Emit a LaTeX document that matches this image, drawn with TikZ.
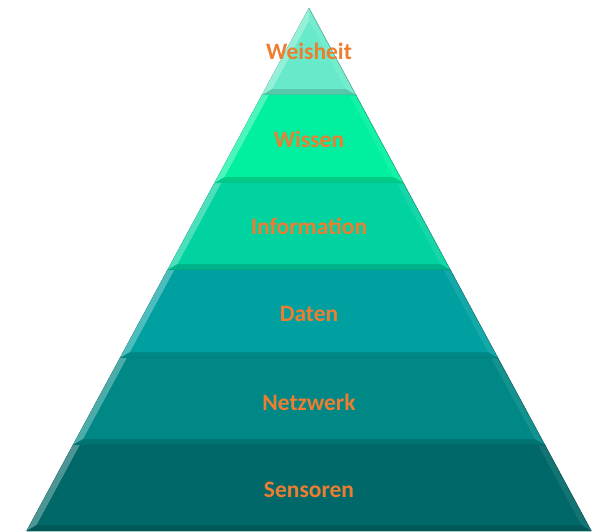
\documentclass[tikz,border=0pt]{standalone}
\usepackage{fontspec}
\setmainfont{Carlito}
\usepackage{tikz}

\definecolor{weisheit}{RGB}{104,234,202}
\definecolor{wissen}{RGB}{0,240,160}
\definecolor{information}{RGB}{0,210,160}
\definecolor{daten}{RGB}{0,160,160}
\definecolor{netzwerk}{RGB}{0,136,134}
\definecolor{sensoren}{RGB}{0,104,104}
\definecolor{labelorange}{RGB}{237,125,49}

\tikzset{layertext/.style={text=labelorange, font=\fontsize{23.5}{28}\selectfont\bfseries}}

\begin{document}
\begin{tikzpicture}[x=1pt,y=-1pt]
        \useasboundingbox (0,0) rectangle (603,532);

        % Weisheit
        \draw[draw=weisheit!60!black, fill=weisheit!92!white] (309,8) -- (356,95) -- (262,95) -- cycle;
        \fill[weisheit!70!white] (309,8) -- (309,21) -- (272.3,89) -- (262,95) -- cycle;
        \fill[weisheit!85!black] (262,95) -- (272.3,89) -- (345.7,89) -- (356,95) -- cycle;
        \fill[weisheit] (309,21) -- (345.7,89) -- (272.3,89) -- cycle;

        % Wissen
        \draw[draw=wissen!60!black, fill=wissen!92!white] (262,95) -- (356,95) -- (403.5,183) -- (214.5,183) -- cycle;
        \fill[wissen!70!white] (262,95) -- (269,95) -- (224.7,177) -- (214.5,183) -- cycle;
        \fill[wissen!85!black] (214.5,183) -- (224.7,177) -- (393.3,177) -- (403.5,183) -- cycle;
        \fill[wissen] (269,95) -- (349,95) -- (393.3,177) -- (224.7,177) -- cycle;

        % Information
        \draw[draw=information!60!black, fill=information!92!white] (214.5,183) -- (403.5,183) -- (450.5,270) -- (167.5,270) -- cycle;
        \fill[information!70!white] (214.5,183) -- (221.5,183) -- (177.8,264) -- (167.5,270) -- cycle;
        \fill[information!85!black] (167.5,270) -- (177.8,264) -- (440.2,264) -- (450.5,270) -- cycle;
        \fill[information] (221.5,183) -- (396.5,183) -- (440.2,264) -- (177.8,264) -- cycle;

        % Daten
        \draw[draw=daten!60!black, fill=daten!92!white] (167.5,270) -- (450.5,270) -- (498,358) -- (120,358) -- cycle;
        \fill[daten!70!white] (167.5,270) -- (174.5,270) -- (130.2,352) -- (120,358) -- cycle;
        \fill[daten!85!black] (120,358) -- (130.2,352) -- (487.8,352) -- (498,358) -- cycle;
        \fill[daten] (174.5,270) -- (443.5,270) -- (487.8,352) -- (130.2,352) -- cycle;

        % Netzwerk
        \draw[draw=netzwerk!60!black, fill=netzwerk!92!white] (120,358) -- (498,358) -- (545,445) -- (73,445) -- cycle;
        \fill[netzwerk!70!white] (120,358) -- (127,358) -- (83.3,439) -- (73,445) -- cycle;
        \fill[netzwerk!85!black] (73,445) -- (83.3,439) -- (534.7,439) -- (545,445) -- cycle;
        \fill[netzwerk] (127,358) -- (491,358) -- (534.7,439) -- (83.3,439) -- cycle;

        % Sensoren
        \draw[draw=sensoren!60!black, fill=sensoren!92!white] (73,445) -- (545,445) -- (591.4,531) -- (26.6,531) -- cycle;
        \fill[sensoren!70!white] (73,445) -- (80,445) -- (36.8,525) -- (26.6,531) -- cycle;
        \fill[sensoren!85!black] (26.6,531) -- (36.8,525) -- (581.2,525) -- (591.4,531) -- cycle;
        \fill[sensoren] (80,445) -- (538,445) -- (581.2,525) -- (36.8,525) -- cycle;

        \node[layertext] (weisheit) at (309,51) {Weisheit};
        \node[layertext] (wissen) at (309,139) {Wissen};
        \node[layertext] (information) at (309,226) {Information};
        \node[layertext] (daten) at (309,314) {Daten};
        \node[layertext] (netzwerk) at (309,402) {Netzwerk};
        \node[layertext] (sensoren) at (309,490) {Sensoren};

    \end{tikzpicture}
\end{document}
